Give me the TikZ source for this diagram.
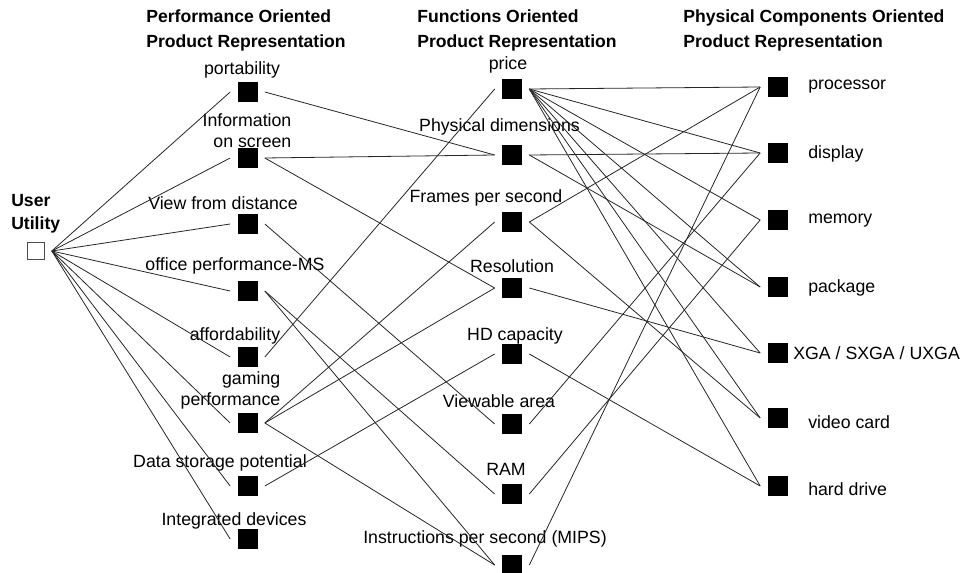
\documentclass[tikz,border=0pt]{standalone}
\usepackage{fontspec}
\setmainfont{Liberation Sans}
\usepackage{tikz}
\usetikzlibrary{positioning}

\begin{document}
\begin{tikzpicture}[
    x=0.75pt, y=-0.75pt,
    sqr/.style={rectangle, fill=black, draw=black, minimum size=14pt, inner sep=0pt, outer sep=6pt},
    userbox/.style={rectangle, draw=black!70, fill=white, thin, minimum size=12.5pt, inner sep=0pt, outer sep=6pt},
    lbl/.style={font=\fontsize{13.3}{16}\selectfont, inner sep=0pt, align=center},
    head/.style={font=\bfseries\fontsize{13.2}{18.7}\selectfont, inner sep=0pt, align=left, anchor=west},
    link/.style={draw=black!85, line width=0.6pt}
]
\useasboundingbox (0,0) rectangle (960,573);

% Headers
\node[head] (head-perf) at (146,30.5) {Performance Oriented\\Product Representation};
\node[head] (head-func) at (417,30.5) {Functions Oriented\\Product Representation};
\node[head] (head-phys) at (683,30.5) {Physical Components Oriented\\Product Representation};

% User
\node[head, font=\bfseries\fontsize{13.2}{17.2}\selectfont] (user-lbl) at (11,213.5) {User\\Utility};
\node[userbox] (user) at (35.5,251) {};

% Performance oriented
\node[sqr] (portability) at (247.5,92) {};
\node[lbl] (portability-lbl) at (242,70) {portability};
\node[sqr] (infoscreen) at (247.5,158) {};
\node[lbl, align=right] (infoscreen-lbl) at (247,130.5) {Information\\on screen};
\node[sqr] (viewdist) at (247.5,224) {};
\node[lbl] (viewdist-lbl) at (223,203) {View from distance};
\node[sqr] (officems) at (247.5,291) {};
\node[lbl] (officems-lbl) at (235,266) {office performance-MS};
\node[sqr] (afford) at (247.5,357) {};
\node[lbl] (afford-lbl) at (235,336) {affordability};
\node[sqr] (gaming) at (247.5,423) {};
\node[lbl, align=right] (gaming-lbl) at (230.5,390.5) {gaming\\performance};
\node[sqr] (datastorage) at (247.5,486) {};
\node[lbl] (datastorage-lbl) at (220,463) {Data storage potential};
\node[sqr] (integrated) at (247.5,539) {};
\node[lbl] (integrated-lbl) at (234,521) {Integrated devices};

% Functions oriented
\node[sqr] (price) at (512,89) {};
\node[lbl] (price-lbl) at (508,65) {price};
\node[sqr] (physdim) at (512,155) {};
\node[lbl] (physdim-lbl) at (499.5,127) {Physical dimensions};
\node[sqr] (fps) at (512,222) {};
\node[lbl] (fps-lbl) at (486,198) {Frames per second};
\node[sqr] (resolution) at (512,288) {};
\node[lbl] (resolution-lbl) at (512,266) {Resolution};
\node[sqr] (hdcap) at (512,354) {};
\node[lbl] (hdcap-lbl) at (515,336) {HD capacity};
\node[sqr] (viewarea) at (512,424) {};
\node[lbl] (viewarea-lbl) at (499,401) {Viewable area};
\node[sqr] (ram) at (512,494) {};
\node[lbl] (ram-lbl) at (506,469) {RAM};
\node[sqr] (mips) at (512,565) {};
\node[lbl] (mips-lbl) at (485,539) {Instructions per second (MIPS)};

% Physical components oriented
\node[sqr] (processor) at (777.5,87) {};
\node[lbl, anchor=west] (processor-lbl) at (808,87) {processor};
\node[sqr] (display) at (777.5,153) {};
\node[lbl, anchor=west] (display-lbl) at (808,154) {display};
\node[sqr] (memory) at (777.5,220) {};
\node[lbl, anchor=west] (memory-lbl) at (808,221) {memory};
\node[sqr] (package) at (777.5,287) {};
\node[lbl, anchor=west] (package-lbl) at (808,288) {package};
\node[sqr] (xga) at (777.5,353) {};
\node[lbl, anchor=west] (xga-lbl) at (793,353) {XGA / SXGA / UXGA};
\node[sqr] (videocard) at (777.5,418) {};
\node[lbl, anchor=west] (videocard-lbl) at (808,422) {video card};
\node[sqr] (harddrive) at (777.5,486) {};
\node[lbl, anchor=west] (harddrive-lbl) at (808,489) {hard drive};

% User -> performance
\draw[link] (user.east) -- (portability.west);
\draw[link] (user.east) -- (infoscreen.west);
\draw[link] (user.east) -- (viewdist.west);
\draw[link] (user.east) -- (officems.west);
\draw[link] (user.east) -- (afford.west);
\draw[link] (user.east) -- (gaming.west);
\draw[link] (user.east) -- (datastorage.west);
\draw[link] (user.east) -- (integrated.west);

% Performance -> functions
\draw[link] (portability.east) -- (physdim.west);
\draw[link] (infoscreen.east) -- (physdim.west);
\draw[link] (infoscreen.east) -- (resolution.west);
\draw[link] (viewdist.east) -- (viewarea.west);
\draw[link] (officems.east) -- (ram.west);
\draw[link] (officems.east) -- (mips.west);
\draw[link] (afford.east) -- (price.west);
\draw[link] (gaming.east) -- (fps.west);
\draw[link] (gaming.east) -- (resolution.west);
\draw[link] (gaming.east) -- (mips.west);
\draw[link] (datastorage.east) -- (hdcap.west);

% Functions -> physical components
\draw[link] (price.east) -- (processor.west);
\draw[link] (price.east) -- (display.west);
\draw[link] (price.east) -- (memory.west);
\draw[link] (price.east) -- (package.west);
\draw[link] (price.east) -- (xga.west);
\draw[link] (price.east) -- (videocard.west);
\draw[link] (price.east) -- (harddrive.west);
\draw[link] (physdim.east) -- (display.west);
\draw[link] (physdim.east) -- (package.west);
\draw[link] (fps.east) -- (processor.west);
\draw[link] (fps.east) -- (videocard.west);
\draw[link] (resolution.east) -- (xga.west);
\draw[link] (hdcap.east) -- (harddrive.west);
\draw[link] (viewarea.east) -- (display.west);
\draw[link] (ram.east) -- (memory.west);
\draw[link] (mips.east) -- (processor.west);

\end{tikzpicture}
\end{document}
